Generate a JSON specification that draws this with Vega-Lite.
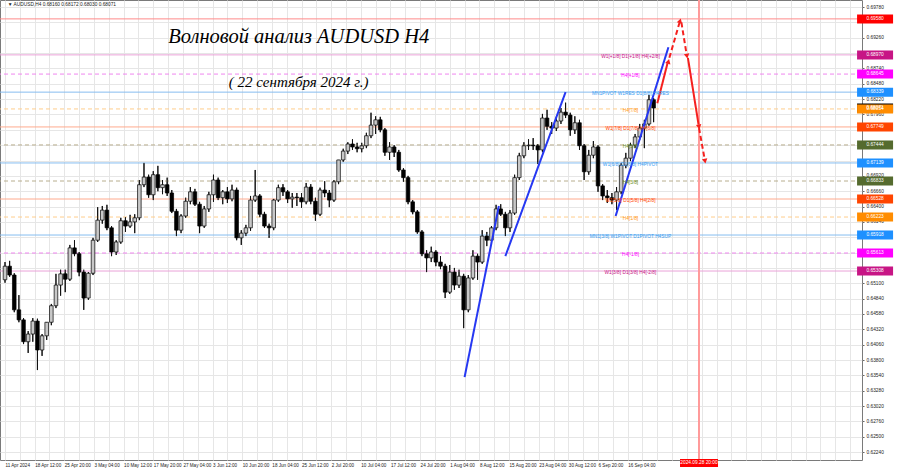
{
"$schema": "https://vega.github.io/schema/vega-lite/v6.json",
"width": 862, "height": 460, "autosize": "none",
"padding": {"left": 0, "top": 0, "right": 38, "bottom": 8},
"background": "#ffffff",
"config": {"view": {"stroke": "#7a7a7a", "strokeWidth": 1}, "font": "Liberation Sans"},
"resolve": {"scale": {"color": "independent", "strokeDash": "independent"}, "axis": {"x": "independent", "y": "independent"}},
"datasets": {
"candles": [
{"b":0,"o":0.6516,"h":0.6546,"l":0.6511,"c":0.6539},{"b":5,"o":0.6539,"h":0.6548,"l":0.6521,"c":0.6524},{"b":10,"o":0.6524,"h":0.6527,"l":0.6461,"c":0.6465},{"b":15,"o":0.6465,"h":0.6490,"l":0.6444,"c":0.6448},{"b":20,"o":0.6448,"h":0.6451,"l":0.6407,"c":0.6411},
{"b":25,"o":0.6411,"h":0.6429,"l":0.6392,"c":0.6424},{"b":30,"o":0.6424,"h":0.6451,"l":0.6411,"c":0.6446},{"b":35,"o":0.6446,"h":0.6450,"l":0.6363,"c":0.6397},{"b":40,"o":0.6397,"h":0.6424,"l":0.6387,"c":0.6421},{"b":45,"o":0.6421,"h":0.6444,"l":0.6414,"c":0.6444},
{"b":50,"o":0.6444,"h":0.6475,"l":0.6439,"c":0.6472},{"b":55,"o":0.6472,"h":0.6526,"l":0.6468,"c":0.6507},{"b":60,"o":0.6507,"h":0.6533,"l":0.6489,"c":0.6526},{"b":65,"o":0.6526,"h":0.6533,"l":0.6495,"c":0.6517},{"b":70,"o":0.6517,"h":0.6575,"l":0.6514,"c":0.6570},
{"b":75,"o":0.6570,"h":0.6583,"l":0.6556,"c":0.6560},{"b":80,"o":0.6560,"h":0.6563,"l":0.6522,"c":0.6529},{"b":85,"o":0.6529,"h":0.6533,"l":0.6465,"c":0.6485},{"b":90,"o":0.6485,"h":0.6529,"l":0.6482,"c":0.6527},{"b":95,"o":0.6527,"h":0.6587,"l":0.6524,"c":0.6583},
{"b":100,"o":0.6583,"h":0.6639,"l":0.6580,"c":0.6617},{"b":105,"o":0.6617,"h":0.6641,"l":0.6611,"c":0.6634},{"b":110,"o":0.6634,"h":0.6643,"l":0.6600,"c":0.6604},{"b":115,"o":0.6604,"h":0.6607,"l":0.6556,"c":0.6563},{"b":120,"o":0.6563,"h":0.6583,"l":0.6558,"c":0.6580},
{"b":125,"o":0.6580,"h":0.6621,"l":0.6577,"c":0.6616},{"b":130,"o":0.6616,"h":0.6622,"l":0.6597,"c":0.6607},{"b":135,"o":0.6607,"h":0.6626,"l":0.6604,"c":0.6614},{"b":140,"o":0.6614,"h":0.6627,"l":0.6595,"c":0.6621},{"b":145,"o":0.6621,"h":0.6685,"l":0.6617,"c":0.6677},
{"b":150,"o":0.6677,"h":0.6714,"l":0.6673,"c":0.6690},{"b":155,"o":0.6690,"h":0.6694,"l":0.6655,"c":0.6660},{"b":160,"o":0.6660,"h":0.6700,"l":0.6651,"c":0.6694},{"b":165,"o":0.6694,"h":0.6709,"l":0.6666,"c":0.6672},{"b":170,"o":0.6672,"h":0.6685,"l":0.6661,"c":0.6677},
{"b":175,"o":0.6677,"h":0.6689,"l":0.6658,"c":0.6663},{"b":180,"o":0.6663,"h":0.6668,"l":0.6629,"c":0.6632},{"b":185,"o":0.6632,"h":0.6636,"l":0.6590,"c":0.6600},{"b":190,"o":0.6600,"h":0.6627,"l":0.6595,"c":0.6624},{"b":195,"o":0.6624,"h":0.6655,"l":0.6621,"c":0.6649},
{"b":200,"o":0.6649,"h":0.6673,"l":0.6644,"c":0.6665},{"b":205,"o":0.6665,"h":0.6670,"l":0.6641,"c":0.6644},{"b":210,"o":0.6644,"h":0.6648,"l":0.6595,"c":0.6607},{"b":215,"o":0.6607,"h":0.6641,"l":0.6604,"c":0.6636},{"b":220,"o":0.6636,"h":0.6665,"l":0.6631,"c":0.6660},
{"b":225,"o":0.6660,"h":0.6694,"l":0.6648,"c":0.6685},{"b":230,"o":0.6685,"h":0.6689,"l":0.6651,"c":0.6655},{"b":235,"o":0.6655,"h":0.6668,"l":0.6644,"c":0.6665},{"b":240,"o":0.6665,"h":0.6673,"l":0.6646,"c":0.6653},{"b":245,"o":0.6653,"h":0.6677,"l":0.6649,"c":0.6668},
{"b":250,"o":0.6668,"h":0.6672,"l":0.6583,"c":0.6587},{"b":255,"o":0.6587,"h":0.6600,"l":0.6575,"c":0.6595},{"b":260,"o":0.6595,"h":0.6609,"l":0.6590,"c":0.6604},{"b":265,"o":0.6604,"h":0.6658,"l":0.6599,"c":0.6651},{"b":270,"o":0.6651,"h":0.6702,"l":0.6648,"c":0.6658},
{"b":275,"o":0.6658,"h":0.6661,"l":0.6622,"c":0.6627},{"b":280,"o":0.6627,"h":0.6631,"l":0.6604,"c":0.6607},{"b":285,"o":0.6607,"h":0.6611,"l":0.6587,"c":0.6604},{"b":290,"o":0.6604,"h":0.6653,"l":0.6600,"c":0.6651},{"b":295,"o":0.6651,"h":0.6677,"l":0.6648,"c":0.6672},
{"b":300,"o":0.6672,"h":0.6678,"l":0.6658,"c":0.6665},{"b":305,"o":0.6665,"h":0.6668,"l":0.6646,"c":0.6653},{"b":310,"o":0.6653,"h":0.6663,"l":0.6638,"c":0.6656},{"b":315,"o":0.6656,"h":0.6663,"l":0.6641,"c":0.6655},{"b":320,"o":0.6655,"h":0.6663,"l":0.6638,"c":0.6648},
{"b":325,"o":0.6648,"h":0.6680,"l":0.6644,"c":0.6673},{"b":330,"o":0.6673,"h":0.6678,"l":0.6644,"c":0.6649},{"b":335,"o":0.6649,"h":0.6655,"l":0.6616,"c":0.6627},{"b":340,"o":0.6627,"h":0.6672,"l":0.6624,"c":0.6668},{"b":345,"o":0.6668,"h":0.6683,"l":0.6656,"c":0.6663},
{"b":350,"o":0.6663,"h":0.6668,"l":0.6639,"c":0.6651},{"b":355,"o":0.6651,"h":0.6685,"l":0.6648,"c":0.6682},{"b":360,"o":0.6682,"h":0.6719,"l":0.6678,"c":0.6719},{"b":365,"o":0.6719,"h":0.6738,"l":0.6716,"c":0.6734},{"b":370,"o":0.6734,"h":0.6749,"l":0.6729,"c":0.6746},
{"b":375,"o":0.6746,"h":0.6754,"l":0.6736,"c":0.6741},{"b":380,"o":0.6741,"h":0.6748,"l":0.6732,"c":0.6738},{"b":385,"o":0.6738,"h":0.6748,"l":0.6732,"c":0.6743},{"b":390,"o":0.6743,"h":0.6765,"l":0.6739,"c":0.6760},{"b":395,"o":0.6760,"h":0.6799,"l":0.6756,"c":0.6778},
{"b":400,"o":0.6778,"h":0.6793,"l":0.6763,"c":0.6787},{"b":405,"o":0.6787,"h":0.6792,"l":0.6766,"c":0.6770},{"b":410,"o":0.6770,"h":0.6773,"l":0.6726,"c":0.6732},{"b":415,"o":0.6732,"h":0.6749,"l":0.6719,"c":0.6741},{"b":420,"o":0.6741,"h":0.6744,"l":0.6724,"c":0.6732},
{"b":425,"o":0.6732,"h":0.6736,"l":0.6699,"c":0.6702},{"b":430,"o":0.6702,"h":0.6705,"l":0.6682,"c":0.6689},{"b":435,"o":0.6689,"h":0.6692,"l":0.6644,"c":0.6648},{"b":440,"o":0.6648,"h":0.6651,"l":0.6627,"c":0.6631},{"b":445,"o":0.6631,"h":0.6634,"l":0.6594,"c":0.6597},
{"b":450,"o":0.6597,"h":0.6600,"l":0.6556,"c":0.6560},{"b":455,"o":0.6560,"h":0.6566,"l":0.6529,"c":0.6553},{"b":460,"o":0.6553,"h":0.6572,"l":0.6546,"c":0.6563},{"b":465,"o":0.6563,"h":0.6566,"l":0.6539,"c":0.6546},{"b":470,"o":0.6546,"h":0.6556,"l":0.6534,"c":0.6539},
{"b":475,"o":0.6539,"h":0.6543,"l":0.6485,"c":0.6495},{"b":480,"o":0.6495,"h":0.6541,"l":0.6492,"c":0.6529},{"b":485,"o":0.6529,"h":0.6536,"l":0.6499,"c":0.6507},{"b":490,"o":0.6507,"h":0.6533,"l":0.6502,"c":0.6522},{"b":495,"o":0.6522,"h":0.6526,"l":0.6434,"c":0.6465},
{"b":500,"o":0.6465,"h":0.6524,"l":0.6461,"c":0.6519},{"b":505,"o":0.6519,"h":0.6566,"l":0.6516,"c":0.6556},{"b":510,"o":0.6556,"h":0.6560,"l":0.6516,"c":0.6546},{"b":515,"o":0.6546,"h":0.6600,"l":0.6543,"c":0.6590},{"b":520,"o":0.6590,"h":0.6597,"l":0.6573,"c":0.6583},
{"b":525,"o":0.6583,"h":0.6607,"l":0.6577,"c":0.6604},{"b":530,"o":0.6604,"h":0.6643,"l":0.6600,"c":0.6636},{"b":535,"o":0.6636,"h":0.6644,"l":0.6624,"c":0.6627},{"b":540,"o":0.6627,"h":0.6631,"l":0.6590,"c":0.6604},{"b":545,"o":0.6604,"h":0.6634,"l":0.6597,"c":0.6629},
{"b":550,"o":0.6629,"h":0.6694,"l":0.6626,"c":0.6689},{"b":555,"o":0.6689,"h":0.6731,"l":0.6685,"c":0.6726},{"b":560,"o":0.6726,"h":0.6749,"l":0.6722,"c":0.6743},{"b":565,"o":0.6743,"h":0.6754,"l":0.6736,"c":0.6744},{"b":570,"o":0.6744,"h":0.6756,"l":0.6736,"c":0.6743},
{"b":575,"o":0.6743,"h":0.6746,"l":0.6712,"c":0.6736},{"b":580,"o":0.6736,"h":0.6797,"l":0.6732,"c":0.6790},{"b":585,"o":0.6790,"h":0.6804,"l":0.6770,"c":0.6776},{"b":590,"o":0.6776,"h":0.6783,"l":0.6763,"c":0.6773},{"b":595,"o":0.6773,"h":0.6792,"l":0.6768,"c":0.6785},
{"b":600,"o":0.6785,"h":0.6807,"l":0.6780,"c":0.6800},{"b":605,"o":0.6800,"h":0.6816,"l":0.6790,"c":0.6795},{"b":610,"o":0.6795,"h":0.6799,"l":0.6760,"c":0.6770},{"b":615,"o":0.6770,"h":0.6793,"l":0.6763,"c":0.6782},{"b":620,"o":0.6782,"h":0.6787,"l":0.6736,"c":0.6743},
{"b":625,"o":0.6743,"h":0.6746,"l":0.6685,"c":0.6699},{"b":630,"o":0.6699,"h":0.6736,"l":0.6694,"c":0.6727},{"b":635,"o":0.6727,"h":0.6751,"l":0.6722,"c":0.6741},{"b":640,"o":0.6741,"h":0.6744,"l":0.6665,"c":0.6675},{"b":645,"o":0.6675,"h":0.6678,"l":0.6651,"c":0.6658},
{"b":650,"o":0.6658,"h":0.6668,"l":0.6646,"c":0.6655},{"b":655,"o":0.6655,"h":0.6663,"l":0.6644,"c":0.6651},{"b":660,"o":0.6651,"h":0.6673,"l":0.6634,"c":0.6665},{"b":665,"o":0.6665,"h":0.6714,"l":0.6661,"c":0.6710},{"b":670,"o":0.6710,"h":0.6731,"l":0.6705,"c":0.6722},
{"b":675,"o":0.6722,"h":0.6748,"l":0.6717,"c":0.6744},{"b":680,"o":0.6744,"h":0.6763,"l":0.6739,"c":0.6758},{"b":685,"o":0.6758,"h":0.6780,"l":0.6753,"c":0.6773},{"b":690,"o":0.6773,"h":0.6787,"l":0.6739,"c":0.6780},{"b":695,"o":0.6780,"h":0.6829,"l":0.6777,"c":0.6821},
{"b":700,"o":0.6821,"h":0.6824,"l":0.6783,"c":0.6807}
],
"levels": [
{"p":0.6958,"grp":"target","lab":""},
{"p":0.6897,"grp":"outer","lab":"W1[+1/8] D1[+1/8] H4[+2/8]"},
{"p":0.68645,"grp":"h4ext","lab":"H4[+1/8]"},
{"p":0.68339,"grp":"pivot","lab":"MN1PIVOT W1RES D1[8/8] H4RES"},
{"p":0.68054,"grp":"h4q","lab":"H4[7/8]"},
{"p":0.67749,"grp":"major","lab":"W1[7/8] D1[7/8] H4[6/8]"},
{"p":0.67444,"grp":"h4mid","lab":"H4[5/8]"},
{"p":0.67139,"grp":"pivot","lab":"W1[6/8] D1[6/8] H4PIVOT"},
{"p":0.66833,"grp":"h4mid","lab":"H4[3/8]"},
{"p":0.66528,"grp":"major","lab":"W1[5/8] D1[5/8] H4[2/8]"},
{"p":0.66223,"grp":"h4q","lab":"H4[1/8]"},
{"p":0.65918,"grp":"pivot","lab":"MN1[3/8] W1PIVOT D1PIVOT H4SUP"},
{"p":0.65613,"grp":"h4ext","lab":"H4[-1/8]"},
{"p":0.65308,"grp":"outer","lab":"W1[3/8] D1[3/8] H4[-2/8]"}
],
"tags": [
{"p":0.6958,"grp":"target"},
{"p":0.6897,"grp":"outer"},
{"p":0.68645,"grp":"h4ext"},
{"p":0.68339,"grp":"pivot"},
{"p":0.68071,"grp":"bid"},
{"p":0.68054,"grp":"h4q"},
{"p":0.67749,"grp":"major"},
{"p":0.67444,"grp":"h4mid"},
{"p":0.67139,"grp":"pivot"},
{"p":0.66833,"grp":"h4mid"},
{"p":0.66528,"grp":"major"},
{"p":0.66223,"grp":"h4q"},
{"p":0.65918,"grp":"pivot"},
{"p":0.65613,"grp":"h4ext"},
{"p":0.65308,"grp":"outer"}
],
"segs": [
{"s":"B1","b":496,"p":0.6351,"k":"wave"},{"s":"B1","b":533,"p":0.6641,"k":"wave"},
{"s":"B2","b":540,"p":0.6556,"k":"wave"},{"s":"B2","b":605,"p":0.6834,"k":"wave"},
{"s":"B3","b":659,"p":0.6624,"k":"wave"},{"s":"B3","b":716,"p":0.6910,"k":"wave"},
{"s":"A1","b":704,"p":0.6815,"k":"solid"},{"s":"A1","b":715,"p":0.6883,"k":"solid"},
{"s":"A2","b":717,"p":0.6892,"k":"dashed"},{"s":"A2","b":728,"p":0.6952,"k":"dashed"},
{"s":"A3","b":730,"p":0.6952,"k":"dashed"},{"s":"A3","b":735.5,"p":0.6899,"k":"dashed"},
{"s":"A4","b":737,"p":0.6892,"k":"solid"},{"s":"A4","b":748.5,"p":0.6779,"k":"solid"},
{"s":"A5","b":749,"p":0.6773,"k":"dashed"},{"s":"A5","b":755,"p":0.6721,"k":"dashed"}
],
"heads": [
{"b":716,"p":0.6886,"dir":"up"},{"b":728.6,"p":0.6955,"dir":"up"},
{"b":736,"p":0.6895,"dir":"down"},{"b":749,"p":0.6775,"dir":"down"},{"b":755.5,"p":0.6717,"dir":"down"}
]
},
"layer": [
{
"data": {"name": "candles"},
"mark": {"type": "rule", "color": "#111111", "strokeWidth": 1},
"encoding": {
"x": {"field": "b", "type": "quantitative", "scale": {"domain": [0, 919.5], "nice": false, "zero": false},
"axis": {"zindex": 0, "values": [0,16,32,48,64,80,96,112,128,144,160,176,192,208,224,240,256,272,288,304,320,336,352,368,384,400,416,432,448,464,480,496,512,528,544,560,576,592,608,624,640,656,672,688,704,720,736,752,768,784,800,816,832,848,864,880,896,912],
"labelExpr": "datum.value % 32 == 0 ? (['11 Apr 2024','18 Apr 12:00','25 Apr 20:00','3 May 04:00','10 May 12:00','17 May 20:00','27 May 04:00','3 Jun 12:00','10 Jun 20:00','18 Jun 04:00','25 Jun 12:00','2 Jul 20:00','10 Jul 04:00','17 Jul 12:00','24 Jul 20:00','1 Aug 04:00','8 Aug 12:00','15 Aug 20:00','23 Aug 04:00','30 Aug 12:00','6 Sep 20:00','16 Sep 04:00'][datum.value / 32] || '') : ''",
"grid": true, "gridColor": "#e6e6e6", "ticks": false, "domain": false, "labelAlign": "left", "labelBaseline": "top",
"labelFontSize": 4.6, "labelColor": "#222222", "labelPadding": 2, "labelOverlap": false, "labelFlush": false, "labelBound": false, "title": null}},
"y": {"field": "l", "type": "quantitative", "scale": {"domain": [0.62106, 0.699], "nice": false, "zero": false},
"axis": {"zindex": 0, "orient": "right", "values": [0.6224,0.625,0.6276,0.6302,0.6328,0.6354,0.638,0.6406,0.6432,0.6458,0.6484,0.651,0.6536,0.6562,0.6588,0.6614,0.664,0.6666,0.6692,0.6718,0.6744,0.677,0.6796,0.6822,0.6848,0.6874,0.69,0.6926,0.6952,0.6978],
"labelExpr": "(abs(datum.value-0.6958)<0.0007 || abs(datum.value-0.6897)<0.0007 || abs(datum.value-0.68645)<0.0007 || abs(datum.value-0.68339)<0.0007 || abs(datum.value-0.68071)<0.0007 || abs(datum.value-0.68054)<0.0007 || abs(datum.value-0.67749)<0.0007 || abs(datum.value-0.67444)<0.0007 || abs(datum.value-0.67139)<0.0007 || abs(datum.value-0.66833)<0.0007 || abs(datum.value-0.66528)<0.0007 || abs(datum.value-0.66223)<0.0007 || abs(datum.value-0.65918)<0.0007 || abs(datum.value-0.65613)<0.0007 || abs(datum.value-0.65308)<0.0007) ? '' : format(datum.value, '.5f')",
"grid": true, "gridColor": "#e6e6e6", "ticks": true, "tickSize": 2, "tickColor": "#666666", "domain": false,
"labelFontSize": 4.8, "labelColor": "#222222", "labelPadding": 2, "labelOverlap": false, "labelBound": false, "labelFlush": false, "title": null}},
"y2": {"field": "h"}
}
},
{
"data": {"name": "levels"},
"mark": {"type": "rule", "strokeWidth": 1},
"encoding": {
"y": {"field": "p", "type": "quantitative", "scale": {"domain": [0.62106, 0.699], "nice": false, "zero": false}, "axis": null},
"color": {"field": "grp", "type": "nominal", "legend": null,
"scale": {"domain": ["target","outer","h4ext","pivot","h4q","major","h4mid"], "range": ["#ff8a8a","#eaa2d8","#ef86ef","#86bdf0","#ffcd8c","#ffaa8e","#b8ae8e"]}},
"strokeDash": {"field": "grp", "type": "nominal", "legend": null,
"scale": {"domain": ["target","outer","h4ext","pivot","h4q","major","h4mid"], "range": [[1,0],[1,0],[4,3],[1,0],[4,3],[1,0],[4,3]]}}
}
},
{
"data": {"name": "candles"},
"mark": {"type": "rule", "color": "#ff9a9a", "strokeWidth": 1},
"encoding": {
"x": {"datum": 749, "type": "quantitative", "scale": {"domain": [0, 919.5], "nice": false, "zero": false}, "axis": null}
}
},
{
"data": {"name": "candles"},
"mark": {"type": "rule", "color": "#111111", "strokeWidth": 1},
"encoding": {
"x": {"field": "b", "type": "quantitative", "scale": {"domain": [0, 919.5], "nice": false, "zero": false}, "axis": null},
"y": {"field": "l", "type": "quantitative", "scale": {"domain": [0.62106, 0.699], "nice": false, "zero": false}, "axis": null},
"y2": {"field": "h"}
}
},
{
"data": {"name": "candles"},
"mark": {"type": "bar", "width": 3.6, "stroke": "#000000", "strokeWidth": 0.7},
"encoding": {
"x": {"field": "b", "type": "quantitative", "scale": {"domain": [0, 919.5], "nice": false, "zero": false}, "axis": null},
"y": {"field": "o", "type": "quantitative", "scale": {"domain": [0.62106, 0.699], "nice": false, "zero": false}, "axis": null},
"y2": {"field": "c"},
"fill": {"condition": {"test": "datum.c > datum.o", "value": "#c8c8c8"}, "value": "#000000"}
}
},
{
"data": {"name": "segs"},
"mark": {"type": "line", "strokeWidth": 2},
"encoding": {
"x": {"field": "b", "type": "quantitative", "scale": {"domain": [0, 919.5], "nice": false, "zero": false}, "axis": null},
"y": {"field": "p", "type": "quantitative", "scale": {"domain": [0.62106, 0.699], "nice": false, "zero": false}, "axis": null},
"detail": {"field": "s"},
"color": {"field": "k", "type": "nominal", "legend": null, "scale": {"domain": ["wave","solid","dashed"], "range": ["#2638f2","#f5201e","#f5201e"]}},
"strokeDash": {"field": "k", "type": "nominal", "legend": null, "scale": {"domain": ["wave","solid","dashed"], "range": [[1,0],[1,0],[5,3]]}}
}
},
{
"data": {"name": "heads"},
"transform": [{"filter": "datum.dir == 'up'"}],
"mark": {"type": "point", "shape": "triangle-up", "filled": true, "color": "#f5201e", "size": 30, "angle": 16, "opacity": 1},
"encoding": {
"x": {"field": "b", "type": "quantitative", "scale": {"domain": [0, 919.5], "nice": false, "zero": false}, "axis": null},
"y": {"field": "p", "type": "quantitative", "scale": {"domain": [0.62106, 0.699], "nice": false, "zero": false}, "axis": null}
}
},
{
"data": {"name": "heads"},
"transform": [{"filter": "datum.dir == 'down'"}],
"mark": {"type": "point", "shape": "triangle-up", "filled": true, "color": "#f5201e", "size": 30, "angle": 170, "opacity": 1},
"encoding": {
"x": {"field": "b", "type": "quantitative", "scale": {"domain": [0, 919.5], "nice": false, "zero": false}, "axis": null},
"y": {"field": "p", "type": "quantitative", "scale": {"domain": [0.62106, 0.699], "nice": false, "zero": false}, "axis": null}
}
},
{
"data": {"name": "levels"},
"mark": {"type": "text", "fontSize": 4.8, "align": "center", "baseline": "middle", "dy": 2},
"encoding": {
"x": {"datum": 675, "type": "quantitative", "scale": {"domain": [0, 919.5], "nice": false, "zero": false}, "axis": null},
"y": {"field": "p", "type": "quantitative", "scale": {"domain": [0.62106, 0.699], "nice": false, "zero": false}, "axis": null},
"text": {"field": "lab"},
"color": {"field": "grp", "type": "nominal", "legend": null,
"scale": {"domain": ["target","outer","h4ext","pivot","h4q","major","h4mid"], "range": ["#ff0000","#c71585","#ff00ff","#3a9cf0","#ff9a1a","#ff4500","#6b8e23"]}}
}
},
{
"data": {"name": "tags"},
"mark": {"type": "tick", "orient": "horizontal", "size": 36, "thickness": 9, "opacity": 1, "clip": false},
"encoding": {
"x": {"datum": 939, "type": "quantitative", "scale": {"domain": [0, 919.5], "nice": false, "zero": false}, "axis": null},
"y": {"field": "p", "type": "quantitative", "scale": {"domain": [0.62106, 0.699], "nice": false, "zero": false}, "axis": null},
"color": {"field": "grp", "type": "nominal", "legend": null,
"scale": {"domain": ["target","outer","h4ext","pivot","h4q","major","h4mid","bid"], "range": ["#ff0000","#c71585","#ff00ff","#1e90ff","#ff8c00","#ff4500","#556b2f","#000000"]}}
}
},
{
"data": {"name": "tags"},
"mark": {"type": "text", "fontSize": 4.8, "align": "center", "baseline": "middle", "color": "#ffffff", "clip": false},
"encoding": {
"x": {"datum": 939, "type": "quantitative", "scale": {"domain": [0, 919.5], "nice": false, "zero": false}, "axis": null},
"y": {"field": "p", "type": "quantitative", "scale": {"domain": [0.62106, 0.699], "nice": false, "zero": false}, "axis": null},
"text": {"field": "p", "type": "quantitative", "format": ".5f"}
}
},
{
"data": {"values": [{"t": "2024.09.28 20:00"}]},
"mark": {"type": "tick", "orient": "horizontal", "size": 38, "thickness": 8, "color": "#ff0000", "opacity": 1, "clip": false},
"encoding": {
"x": {"datum": 749, "type": "quantitative", "scale": {"domain": [0, 919.5], "nice": false, "zero": false}, "axis": null},
"y": {"datum": 0.62055, "type": "quantitative", "scale": {"domain": [0.62106, 0.699], "nice": false, "zero": false}, "axis": null}
}
},
{
"data": {"values": [{"t": "2024.09.28 20:00"}]},
"mark": {"type": "text", "fontSize": 4.8, "align": "center", "baseline": "middle", "color": "#ffffff", "clip": false},
"encoding": {
"x": {"datum": 749, "type": "quantitative", "scale": {"domain": [0, 919.5], "nice": false, "zero": false}, "axis": null},
"y": {"datum": 0.62055, "type": "quantitative", "scale": {"domain": [0.62106, 0.699], "nice": false, "zero": false}, "axis": null},
"text": {"field": "t"}
}
},
{
"data": {"values": [{"t": "▼ AUDUSD,H4  0.68160 0.68172 0.68030 0.68071"}]},
"mark": {"type": "text", "fontSize": 4.8, "align": "left", "baseline": "middle", "color": "#222222"},
"encoding": {
"x": {"datum": 3, "type": "quantitative", "scale": {"domain": [0, 919.5], "nice": false, "zero": false}, "axis": null},
"y": {"datum": 0.69815, "type": "quantitative", "scale": {"domain": [0.62106, 0.699], "nice": false, "zero": false}, "axis": null},
"text": {"field": "t"}
}
},
{
"data": {"values": [{"t": "Волновой анализ AUDUSD H4"}]},
"mark": {"type": "text", "fontSize": 20.5, "font": "Liberation Serif", "fontStyle": "italic", "align": "center", "baseline": "middle", "color": "#000000"},
"encoding": {
"x": {"datum": 317, "type": "quantitative", "scale": {"domain": [0, 919.5], "nice": false, "zero": false}, "axis": null},
"y": {"datum": 0.69273, "type": "quantitative", "scale": {"domain": [0.62106, 0.699], "nice": false, "zero": false}, "axis": null},
"text": {"field": "t"}
}
},
{
"data": {"values": [{"t": "( 22 сентября 2024 г.)"}]},
"mark": {"type": "text", "fontSize": 15, "font": "Liberation Serif", "fontStyle": "italic", "align": "center", "baseline": "middle", "color": "#000000"},
"encoding": {
"x": {"datum": 317, "type": "quantitative", "scale": {"domain": [0, 919.5], "nice": false, "zero": false}, "axis": null},
"y": {"datum": 0.68511, "type": "quantitative", "scale": {"domain": [0.62106, 0.699], "nice": false, "zero": false}, "axis": null},
"text": {"field": "t"}
}
}
]
}
